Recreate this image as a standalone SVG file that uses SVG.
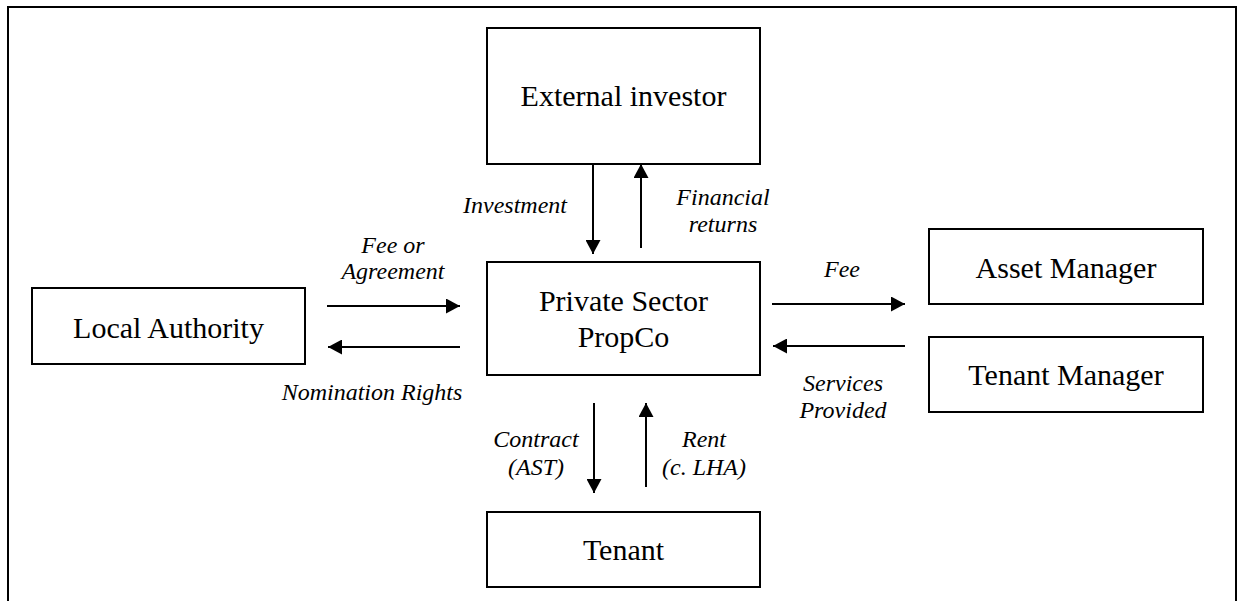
<svg xmlns="http://www.w3.org/2000/svg" width="1240" height="601" viewBox="0 0 1240 601">
<style>
  .box { fill: #ffffff; stroke: #000000; stroke-width: 2; }
  .node { font-family: "Liberation Serif", "Times New Roman", serif; font-size: 30px; fill: #000000; text-anchor: middle; }
  .lbl { font-family: "Liberation Serif", "Times New Roman", serif; font-size: 24px; font-style: italic; fill: #000000; text-anchor: middle; }
  .conn { stroke: #000000; stroke-width: 2; fill: none; marker-end: url(#arrow); }
</style>
<defs>
  <marker id="arrow" markerUnits="userSpaceOnUse" viewBox="0 0 14 15" markerWidth="14" markerHeight="15" refX="14" refY="7.5" orient="auto">
    <path d="M0,0 L14,7.5 L0,15 z" fill="#000000"/>
  </marker>
</defs>
<rect x="0" y="0" width="1240" height="601" fill="#ffffff"/>
<rect id="frame" x="8" y="7" width="1228" height="620" fill="none" stroke="#000000" stroke-width="2"/>

<g id="external-investor">
  <rect class="box" x="487" y="28" width="273" height="136"/>
  <text class="node" x="623.5" y="106">External investor</text>
</g>
<g id="propco">
  <rect class="box" x="487" y="262" width="273" height="113"/>
  <text class="node" x="623.5" y="311">Private Sector</text>
  <text class="node" x="623.5" y="347">PropCo</text>
</g>
<g id="local-authority">
  <rect class="box" x="32" y="288" width="273" height="76"/>
  <text class="node" x="168.5" y="338">Local Authority</text>
</g>
<g id="asset-manager">
  <rect class="box" x="929" y="229" width="274" height="75"/>
  <text class="node" x="1066" y="278">Asset Manager</text>
</g>
<g id="tenant-manager">
  <rect class="box" x="929" y="337" width="274" height="75"/>
  <text class="node" x="1066" y="385">Tenant Manager</text>
</g>
<g id="tenant">
  <rect class="box" x="487" y="512" width="273" height="75"/>
  <text class="node" x="623.5" y="560">Tenant</text>
</g>

<g id="connectors">
  <line class="conn" x1="593" y1="164" x2="593" y2="254"/>
  <line class="conn" x1="641" y1="248" x2="641" y2="164"/>
  <line class="conn" x1="327" y1="306" x2="460" y2="306"/>
  <line class="conn" x1="460" y1="347" x2="328" y2="347"/>
  <line class="conn" x1="772" y1="304" x2="905" y2="304"/>
  <line class="conn" x1="905" y1="346" x2="773" y2="346"/>
  <line class="conn" x1="594" y1="403" x2="594" y2="493"/>
  <line class="conn" x1="646" y1="487" x2="646" y2="403"/>

  <text class="lbl" x="567" y="213" style="text-anchor:end">Investment</text>
  <text class="lbl" x="723" y="205">Financial</text>
  <text class="lbl" x="723" y="232">returns</text>
  <text class="lbl" x="393" y="253">Fee or</text>
  <text class="lbl" x="393" y="279">Agreement</text>
  <text class="lbl" x="372" y="400">Nomination Rights</text>
  <text class="lbl" x="842" y="277">Fee</text>
  <text class="lbl" x="843" y="391">Services</text>
  <text class="lbl" x="843" y="418">Provided</text>
  <text class="lbl" x="536" y="447">Contract</text>
  <text class="lbl" x="536" y="475">(AST)</text>
  <text class="lbl" x="704" y="447">Rent</text>
  <text class="lbl" x="704" y="475">(c. LHA)</text>
</g>
</svg>
